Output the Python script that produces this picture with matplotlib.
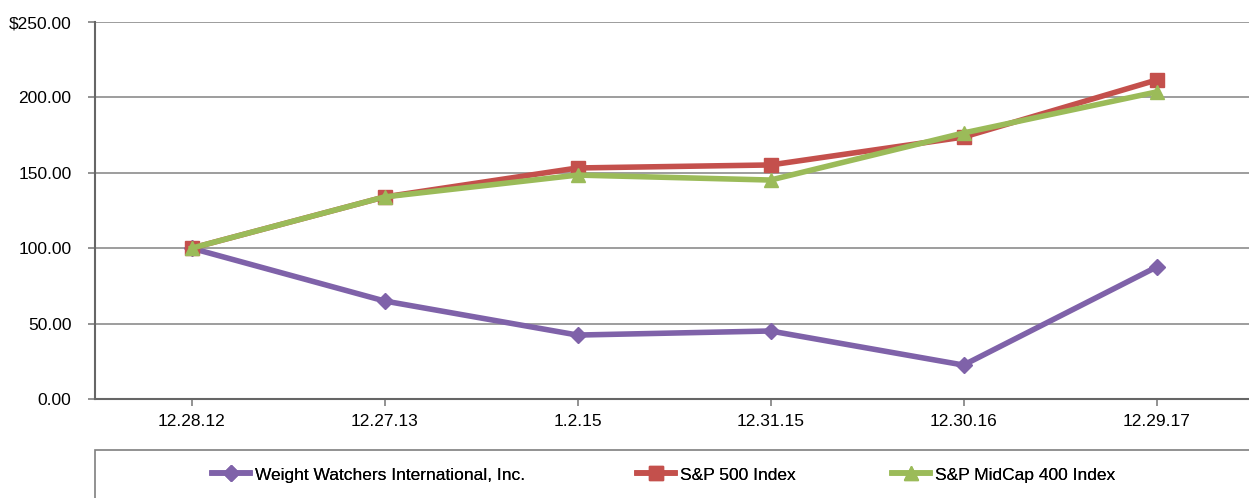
import matplotlib.pyplot as plt
from matplotlib.patches import Rectangle
from matplotlib.ticker import FuncFormatter

plt.rcParams['font.family'] = ['Liberation Sans', 'DejaVu Sans']

dates = ["12.28.12", "12.27.13", "1.2.15", "12.31.15", "12.30.16", "12.29.17"]
weight_watchers = [100.0, 65.0, 42.4, 45.1, 22.5, 87.5]
sp500 = [100.0, 134.0, 153.2, 155.2, 173.7, 211.5]
midcap400 = [100.0, 134.0, 148.5, 145.2, 176.4, 203.6]

fig = plt.figure(figsize=(12.49, 4.98), dpi=100)
ax = fig.add_axes([95 / 1249, 1 - 399 / 498, 1158 / 1249, 377 / 498])

x = list(range(len(dates)))
l1, = ax.plot(x, weight_watchers, color="#7F62A9", lw=4, marker="D", ms=8.5,
	label="Weight Watchers International, Inc.")
l2, = ax.plot(x, sp500, color="#C4504C", lw=4, marker="s", ms=9.5,
	label="S&P 500 Index")
l3, = ax.plot(x, midcap400, color="#9BBB59", lw=4, marker="^", ms=10.5,
	label="S&P MidCap 400 Index")

ax.set_xlim(-0.5, 5.5)
ax.set_ylim(0, 250)
ax.set_xticks(x)
ax.set_xticklabels(dates)
ax.set_yticks([0, 50, 100, 150, 200, 250])

def fmt(v, pos):
	if v == 250:
		return "$%.2f" % v
	return "%.2f" % v

ax.yaxis.set_major_formatter(FuncFormatter(fmt))
ax.tick_params(axis="both", labelsize=12.5, labelcolor="#000000", color="#7f7f7f",
	length=5, width=1.2)
ax.tick_params(axis="y", pad=12)
ax.tick_params(axis="x", pad=6)
ax.grid(axis="y", color="#8c8c8c", lw=1.2)
ax.set_axisbelow(True)
for side in ["top", "right"]:
	ax.spines[side].set_visible(False)
ax.spines["left"].set_color("#666666")
ax.spines["bottom"].set_color("#666666")
ax.spines["left"].set_linewidth(1.5)
ax.spines["bottom"].set_linewidth(1.5)

# legend box
box = Rectangle((95 / 1249, -0.05), 1.0, 1 - 450 / 498 + 0.05, transform=fig.transFigure,
	fill=False, edgecolor="#7f7f7f", lw=1.2, clip_on=False)
fig.patches.append(box)

# one legend per entry so the spacing can follow the reference
for line, xs in [(l1, 212), (l2, 637), (l3, 892)]:
	leg = fig.legend([line], [line.get_label()], loc="center left",
		bbox_to_anchor=(xs / 1249, 1 - 475 / 498), frameon=False,
		fontsize=12.5, handlelength=2.2, handletextpad=0.3, borderpad=0, borderaxespad=0)
	fig.add_artist(leg)

plt.savefig("out.png", dpi=100)
